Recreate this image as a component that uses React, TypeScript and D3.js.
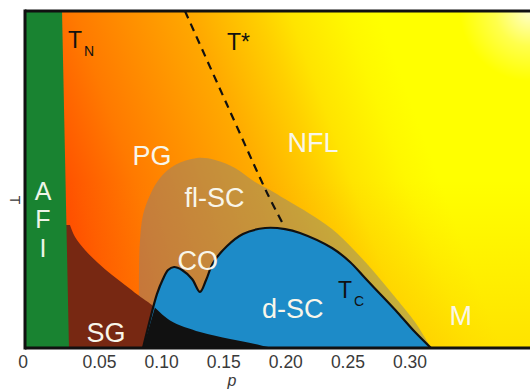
import React from "react";
import * as d3 from "d3";

const W = 530;
const H = 391;

// ---- data (p = hole doping, T = temperature, arbitrary K-like units) ----
const P_DOMAIN: [number, number] = [-0.01, 0.3966];
const T_DOMAIN: [number, number] = [0, 300];

const xTicks = [0.05, 0.1, 0.15, 0.2, 0.25, 0.3];
const xTickLabels = ["0.05", "0.10", "0.15", "0.20", "0.25", "0.30"];
const originLabel = "0";

type Pt = [number, number];

// Néel temperature line bounding the AFI phase
const afiBoundary: Pt[] = [
  [0.0198, 300],
  [0.0254, 0],
];

// spin-glass boundary
const sgBoundary: Pt[] = [
  [0.0262, 109.5],
  [0.0303, 98.8],
  [0.0383, 87.2],
  [0.0488, 75.7],
  [0.0601, 65.0],
  [0.0705, 56.1],
  [0.081, 47.2],
  [0.089, 40.9],
  [0.0946, 36.0],
];

// low-T tail (dark region under the dome)
const glassTail: Pt[] = [
  [0.0946, 36.0],
  [0.1068, 24.5],
  [0.1309, 14.2],
  [0.1551, 8.0],
  [0.1752, 3.6],
  [0.1889, 0],
];

// fluctuating superconductivity dome
const flucDome: Pt[] = [
  [0.0826, 0],
  [0.0818, 42.7],
  [0.0818, 69.4],
  [0.0826, 96.1],
  [0.085, 118.4],
  [0.0907, 136.2],
  [0.0987, 151.3],
  [0.1108, 162.9],
  [0.1285, 169.1],
  [0.143, 167.4],
  [0.1591, 160.2],
  [0.1752, 147.8],
  [0.1873, 140.7],
  [0.1994, 132.6],
  [0.2195, 119.3],
  [0.2372, 105.9],
  [0.2557, 86.3],
  [0.2718, 66.8],
  [0.2879, 45.4],
  [0.304, 23.1],
  [0.3169, 0],
];

// d-wave superconducting dome (Tc) with charge-order dip
const tcDome: Pt[] = [
  [0.085, 0],
  [0.0915, 29.0],
  [0.0963, 48.1],
  [0.1011, 61.4],
  [0.1052, 69.4],
  [0.11, 72.1],
  [0.1164, 69.4],
  [0.1245, 61.4],
  [0.1309, 49.9],
  [0.1358, 60.5],
  [0.1414, 75.7],
  [0.1527, 90.8],
  [0.1655, 101.5],
  [0.1833, 106.8],
  [0.1994, 105.9],
  [0.2114, 102.4],
  [0.2372, 89.0],
  [0.2517, 76.6],
  [0.2638, 62.3],
  [0.2775, 46.3],
  [0.2903, 31.2],
  [0.304, 14.2],
  [0.3169, 0],
];

// pseudogap crossover T*
const tStar: Pt[] = [
  [0.1188, 300],
  [0.1527, 216.5],
  [0.1857, 136.2],
  [0.1969, 112.2],
];

// annotations (data coordinates)
const whiteLabels = [
  { text: "PG", p: 0.0765, T: 163 },
  { text: "NFL", p: 0.2014, T: 174.5 },
  { text: "fl-SC", p: 0.1185, T: 125.5 },
  { text: "CO", p: 0.1128, T: 69.4 },
  { text: "SG", p: 0.0395, T: 5.3 },
  { text: "d-SC", p: 0.1808, T: 26.7 },
  { text: "M", p: 0.3318, T: 20.5 },
];
const afiLetters = [
  { text: "A", p: 0.0045, T: 131.7 },
  { text: "F", p: 0.0045, T: 106.8 },
  { text: "I", p: 0.0045, T: 81.0 },
];
const tempLabels = [
  { main: "T", sub: "N", p: 0.0246, T: 267 },
  { main: "T", sub: "C", p: 0.242, T: 44.5 },
];
const tStarLabel = { text: "T*", p: 0.1527, T: 265.3 };

const FONT = "'Liberation Sans', Arial, Helvetica, sans-serif";

export default function App() {
  const left = 25;
  const right = 530;
  const top = 11;
  const bottom = 348;

  const x = d3.scaleLinear().domain(P_DOMAIN).range([left, right]);
  const y = d3.scaleLinear().domain(T_DOMAIN).range([bottom, top]);

  const smooth = d3
    .line<Pt>()
    .x((d) => x(d[0]))
    .y((d) => y(d[1]))
    .curve(d3.curveCatmullRom.alpha(0.5));
  const straight = d3
    .line<Pt>()
    .x((d) => x(d[0]))
    .y((d) => y(d[1]));

  const afiPoly: Pt[] = [[P_DOMAIN[0], 0], [P_DOMAIN[0], T_DOMAIN[1]], ...afiBoundary];
  const sgStart: Pt = [0.015, sgBoundary[0][1]];
  const sgPath =
    straight([[0.015, 0], sgStart, sgBoundary[0]])! +
    smooth(sgBoundary)!.replace(/^M/, "L") +
    "L" + x(tcDome[0][0]) + "," + y(0) + "Z";
  const blackPath =
    straight([[tcDome[0][0], 0], glassTail[0]])! +
    smooth(glassTail)!.replace(/^M/, "L") +
    "Z";

  // gradient geometry derived from plot extents
  const gx1 = x.range()[0];
  const gy1 = y.range()[0];
  const gLen = 520;
  const gx2 = gx1 + 0.9386 * gLen;
  const gy2 = gy1 - 0.3451 * gLen;

  return (
    <svg
      width={W}
      height={H}
      style={{ position: "absolute", left: 0, top: 0, background: "#fff" }}
    >
      <defs>
        <linearGradient id="bg" gradientUnits="userSpaceOnUse" x1={gx1} y1={gy1} x2={gx2} y2={gy2}>
          <stop offset="0" stopColor="#ff3400" />
          <stop offset="0.167" stopColor="#ff4c00" />
          <stop offset="0.2" stopColor="#ff5800" />
          <stop offset="0.31" stopColor="#ff7a00" />
          <stop offset="0.527" stopColor="#ffaa00" />
          <stop offset="0.646" stopColor="#ffd000" />
          <stop offset="0.7" stopColor="#ffe400" />
          <stop offset="0.8" stopColor="#fff800" />
          <stop offset="0.86" stopColor="#ffff00" />
          <stop offset="1" stopColor="#ffff00" />
        </linearGradient>
        <linearGradient id="bottomTint" gradientUnits="userSpaceOnUse" x1={0} y1={bottom} x2={0} y2={top + 170}>
          <stop offset="0" stopColor="#ff9a00" stopOpacity={0.28} />
          <stop offset="1" stopColor="#ff9a00" stopOpacity={0} />
        </linearGradient>
        <radialGradient id="glow" gradientUnits="userSpaceOnUse" cx={right} cy={top} r={70}>
          <stop offset="0" stopColor="#ffffff" stopOpacity={0.8} />
          <stop offset="0.5" stopColor="#ffffff" stopOpacity={0.3} />
          <stop offset="1" stopColor="#ffffff" stopOpacity={0} />
        </radialGradient>
        <clipPath id="plot">
          <rect x={left} y={top} width={right - left} height={bottom - top} />
        </clipPath>
      </defs>

      <g clipPath="url(#plot)">
        <rect x={left} y={top} width={right - left} height={bottom - top} fill="url(#bg)" />
        <rect x={left} y={top} width={right - left} height={bottom - top} fill="url(#bottomTint)" />
        <rect x={left} y={top} width={right - left} height={bottom - top} fill="url(#glow)" />

        <path d={smooth(flucDome)! + "Z"} fill="rgb(128,128,128)" fillOpacity={0.45} />
        <path d={sgPath} fill="#772812" />
        <path d={smooth(tcDome)! + "Z"} fill="#1d8bc8" />
        <path d={smooth(tcDome)!} fill="none" stroke="#111" strokeWidth={2.2} />
        <path d={blackPath} fill="#111" />
        <path d={straight(afiPoly)! + "Z"} fill="#198331" />

        <path
          d={smooth(tStar)!}
          fill="none"
          stroke="#111"
          strokeWidth={2.2}
          strokeDasharray="8,6"
        />
      </g>

      {/* labels */}
      <g fontFamily={FONT}>
        {whiteLabels.map((l) => (
          <text key={l.text} x={x(l.p)} y={y(l.T)} fill="#f8f6ea" fontSize={27}>
            {l.text}
          </text>
        ))}
        {afiLetters.map((l) => (
          <text
            key={l.text}
            x={x(l.p)}
            y={y(l.T)}
            fill="#eef5e8"
            fontSize={25}
            textAnchor="middle"
          >
            {l.text}
          </text>
        ))}
        {tempLabels.map((l) => (
          <text key={l.sub} x={x(l.p)} y={y(l.T)} fill="#111" fontSize={23}>
            {l.main}
            <tspan fontSize={14} dy={8} dx={2}>
              {l.sub}
            </tspan>
          </text>
        ))}
        <text x={x(tStarLabel.p)} y={y(tStarLabel.T)} fill="#111" fontSize={23}>
          {tStarLabel.text}
        </text>
      </g>

      {/* frame */}
      <line x1={left} x2={right} y1={top} y2={top} stroke="#111" strokeWidth={3} />
      <line x1={left} x2={left} y1={top - 1.5} y2={bottom + 1.5} stroke="#111" strokeWidth={3} />
      <line x1={left} x2={right} y1={bottom} y2={bottom} stroke="#111" strokeWidth={3} />

      {/* axes text */}
      <g fontFamily={FONT} fill="#3a3a3a" fontSize={17.5}>
        <text x={x(P_DOMAIN[0]) - 2} y={368} textAnchor="middle">
          {originLabel}
        </text>
        {xTicks.map((t, i) => (
          <text key={t} x={x(t)} y={368} textAnchor="middle">
            {xTickLabels[i]}
          </text>
        ))}
        <text x={232} y={386} textAnchor="middle" fontStyle="italic" fontSize={16}>
          p
        </text>
        <text
          transform="translate(15,200) rotate(90)"
          textAnchor="middle"
          dominantBaseline="central"
          fontSize={14}
        >
          T
        </text>
      </g>
    </svg>
  );
}
